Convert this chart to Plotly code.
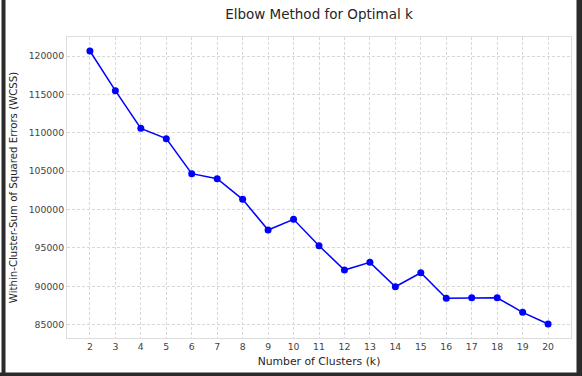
import plotly.graph_objects as go

k_values = list(range(2, 21))
wcss = [120650, 115480, 110580, 109230, 104670, 104010, 101330, 97330, 98730,
        95290, 92120, 93120, 89945, 91770, 88430, 88510, 88510, 86610, 85090]
y_ticks = [85000, 90000, 95000, 100000, 105000, 110000, 115000, 120000]

W, H = 582, 376
ML, MR, MT, MB = 67, 11, 37, 38
PW, PH = W - ML - MR, H - MT - MB

def px_x(p):
    return (p - ML) / PW

def px_y(p):
    return (H - MB - p) / PH

fig = go.Figure()
fig.add_trace(go.Scatter(
    x=k_values, y=wcss, mode="lines+markers",
    line=dict(color="#0000ff", width=1.5),
    marker=dict(color="#0000ff", size=7),
    showlegend=False,
))

font = "DejaVu Sans, sans-serif"
fig.update_layout(
    width=W, height=H,
    margin=dict(l=ML, r=MR, t=MT, b=MB),
    paper_bgcolor="white", plot_bgcolor="white",
    font=dict(family=font, color="#333333"),
    title=dict(text="Elbow Method for Optimal k", x=(ML + PW / 2) / W, xanchor="center",
               y=1 - 14 / H, yanchor="middle", font=dict(size=13.5, color="#262626")),
    xaxis=dict(
        title=dict(text="Number of Clusters (k)", font=dict(size=10.8, color="#262626"), standoff=6),
        range=[1.1, 20.9], tickmode="array", tickvals=k_values,
        tickfont=dict(size=9.3, color="#444444"),
        showgrid=True, gridcolor="#d8d8d8", gridwidth=0.8, griddash="3px,2px",
        showline=True, linecolor="#dddddd", linewidth=1, mirror=True,
        zeroline=False, ticks="", ticklen=0, automargin=False,
    ),
    yaxis=dict(
        title=dict(text="Within-Cluster-Sum of Squared Errors (WCSS)", font=dict(size=10.2, color="#262626"), standoff=9),
        range=[83267, 122475], tickmode="array", tickvals=y_ticks,
        ticktext=[str(v) for v in y_ticks],
        tickfont=dict(size=9.3, color="#444444"),
        showgrid=True, gridcolor="#d8d8d8", gridwidth=0.8, griddash="3px,2px",
        showline=True, linecolor="#dddddd", linewidth=1, mirror=True,
        zeroline=False, ticks="", ticklen=0, automargin=False,
    ),
)

# dark screenshot frame (left, right, bottom)
frame = "#2b2b2b"
for x0, x1, y0, y1 in [(1.5, 5.5, 0, 376), (576.5, 582, 0, 376), (0, 582, 372.5, 376)]:
    fig.add_shape(type="rect", xref="paper", yref="paper",
                  x0=px_x(x0), x1=px_x(x1), y0=px_y(y1), y1=px_y(y0),
                  fillcolor=frame, line=dict(width=0), layer="above")

fig.write_html("out.html", config={"displayModeBar": False},
               post_script="document.body.style.margin='0';document.body.style.overflow='hidden';")
